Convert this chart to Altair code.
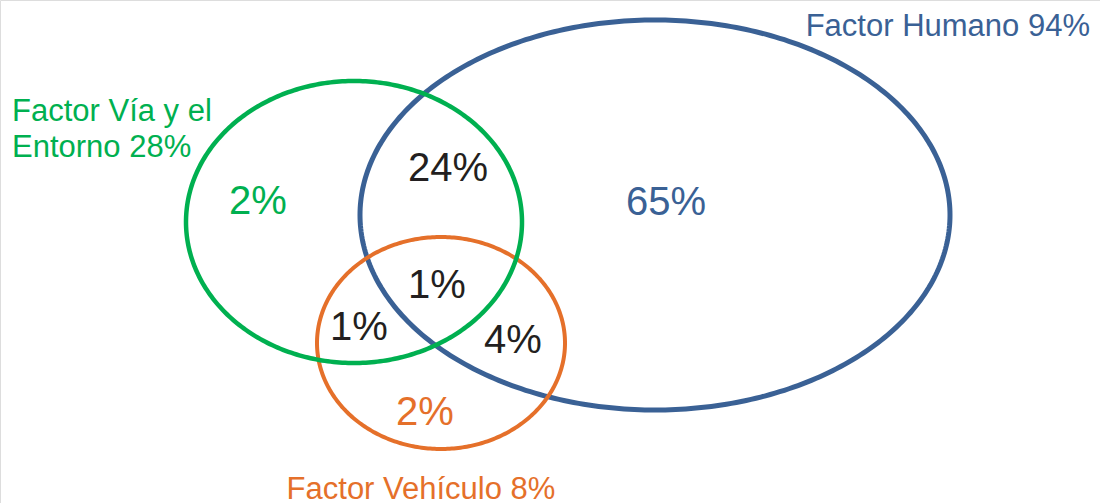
import altair as alt
import numpy as np
import pandas as pd

# Venn sets: outline centre and half-axes (in canvas units), colour, stroke
set_names = ["Humano", "Vehículo", "Vía y el Entorno"]
set_cx = [655, 441, 354]
set_cy = [215, 343, 222]
set_rx = [295, 124, 168]
set_ry = [195, 106, 141]
set_colors = ["#3A6195", "#E5702A", "#00B050"]
set_strokes = [5, 4, 4.5]

# Region percentages placed inside the diagram
region_text = ["2%", "24%", "65%", "1%", "1%", "4%", "2%"]
region_x = [258, 448, 666, 437, 359, 513, 425]
region_y = [214, 181, 215, 298, 340, 353, 425]
region_color = ["#00B050", "#231F20", "#3A6195", "#231F20", "#231F20", "#231F20", "#E5702A"]

# Set titles
title_text = ["Factor Humano 94%", "Factor Vía y el", "Entorno 28%", "Factor Vehículo 8%"]
title_x = [1090, 12, 12, 421]
title_y = [36, 121, 157, 499]
title_align = ["right", "left", "left", "center"]
title_color = ["#3A6195", "#00B050", "#00B050", "#E5702A"]

W, H = 1100, 503
FONT = "Liberation Sans"

# Outline tables for each ellipse
t = np.linspace(0, 2 * np.pi, 361)
outlines = []
for name, cx, cy, rx, ry, col, sw in zip(set_names, set_cx, set_cy, set_rx, set_ry,
                                         set_colors, set_strokes):
    outlines.append(pd.DataFrame({
        "set": name, "i": np.arange(len(t)),
        "x": cx + rx * np.cos(t), "y": cy + ry * np.sin(t),
        "color": col, "sw": sw,
    }))

xs = alt.Scale(domain=[0, W], nice=False, zero=False)
ys = alt.Scale(domain=[0, H], nice=False, zero=False, reverse=True)

layers = []
for df in outlines:
    layers.append(
        alt.Chart(df).mark_line(strokeWidth=float(df["sw"].iloc[0]),
                                color=df["color"].iloc[0], strokeCap="round")
        .encode(x=alt.X("x:Q", scale=xs, axis=None),
                y=alt.Y("y:Q", scale=ys, axis=None),
                order="i:Q")
    )

regions = pd.DataFrame({"text": region_text, "x": region_x, "y": region_y,
                        "color": region_color})
layers.append(
    alt.Chart(regions).mark_text(font=FONT, fontSize=40, align="center",
                                 baseline="alphabetic")
    .encode(x=alt.X("x:Q", scale=xs, axis=None), y=alt.Y("y:Q", scale=ys, axis=None),
            text="text:N", color=alt.Color("color:N", scale=None))
)

titles = pd.DataFrame({"text": title_text, "x": title_x, "y": title_y,
                       "align": title_align, "color": title_color})
for al in ["left", "center", "right"]:
    sub = titles[titles["align"] == al]
    layers.append(
        alt.Chart(sub).mark_text(font=FONT, fontSize=31, align=al, baseline="alphabetic")
        .encode(x=alt.X("x:Q", scale=xs, axis=None), y=alt.Y("y:Q", scale=ys, axis=None),
                text="text:N", color=alt.Color("color:N", scale=None))
    )

chart = (
    alt.layer(*layers)
    .properties(width=W, height=H, autosize=alt.AutoSizeParams(type="none"), padding=0)
    .configure_view(stroke=None)
    .configure(background="white")
)

chart.save("out.html", embed_options={"renderer": "svg", "actions": False})
